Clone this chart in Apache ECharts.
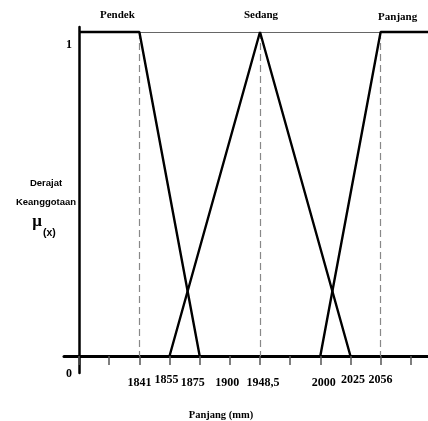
<!DOCTYPE html>
<html>
<head>
<meta charset="utf-8">
<script src="https://cdn.jsdelivr.net/npm/echarts@6/dist/echarts.min.js"></script>
<style>
  html, body { margin: 0; padding: 0; background: #fff; }
  #chart { width: 428px; height: 421px; }
</style>
</head>
<body>
<div id="chart"></div>
<script>
// Crisp length categories on the horizontal axis (blank entries are unlabelled ticks)
const categories = ['', '', '1841', '1855', '1875', '1900', '1948,5', '', '2000', '2025', '2056', '', ''];
const firstIndex = 0;
const lastIndex = categories.length - 1;

// Membership degree points for each fuzzy set
const pendek = [[firstIndex, 1], ['1841', 1], ['1875', 0]];
const sedang = [['1855', 0], ['1948,5', 1], ['2025', 0]];
const panjang = [['2000', 0], ['2056', 1], [lastIndex, 1]];

// Membership-value labels on the vertical axis
const yTicks = [0, 1];

const serif = 'Liberation Serif';
const dashStyle = { color: '#888', width: 1.2, type: [7, 4] };
const tickFont = { fontFamily: serif, fontWeight: 'bold', fontSize: 12, color: '#000' };

// Typesetting of individual tick labels: [top, right, bottom, left] padding
const labelPadding = {
  '1841': [3, 0, 0, 0],
  '1855': [0, 6, 0, 0],
  '1875': [3, 14, 0, 0],
  '1900': [3, 5, 0, 0],
  '1948,5': [3, 0, 0, 6],
  '2000': [3, 0, 0, 7],
  '2025': [0, 0, 0, 5],
  '2056': [0, 0, 0, 0]
};
const labelRich = {};
Object.keys(labelPadding).forEach(function (k, i) {
  labelRich['t' + i] = Object.assign({ padding: labelPadding[k] }, tickFont);
});

function guide(cat) {
  return [{ coord: [cat, 1] }, { coord: [cat, 0] }];
}

function setSeries(name, data, guideCat, labelOffset, extraLines) {
  return {
    name: name,
    type: 'line',
    data: data,
    symbol: 'none',
    lineStyle: { color: '#000', width: 2.4 },
    z: 5,
    markLine: {
      silent: true,
      symbol: ['none', 'none'],
      label: { show: false },
      lineStyle: dashStyle,
      data: [guide(guideCat)].concat(extraLines || [])
    },
    markPoint: {
      silent: true,
      symbol: 'circle',
      symbolSize: 0,
      data: [{ coord: [guideCat, 1] }],
      label: {
        show: true,
        position: 'inside',
        formatter: name,
        offset: labelOffset,
        fontFamily: serif,
        fontWeight: 'bold',
        fontSize: 11,
        color: '#000'
      }
    }
  };
}

const chart = echarts.init(document.getElementById('chart'), null, { renderer: 'canvas' });

chart.setOption({
  backgroundColor: '#fff',
  animation: false,
  grid: { left: 64, width: 392, top: 27, bottom: 48, containLabel: false, outerBoundsMode: 'none' },
  title: [
    {
      text: 'Panjang (mm)',
      left: 216, top: 405, textAlign: 'center',
      textStyle: { fontFamily: serif, fontWeight: 'bold', fontSize: 10.5, color: '#000' }
    },
    {
      text: 'Derajat\nKeanggotaan',
      left: 41, top: 169, textAlign: 'center',
      textStyle: { fontFamily: 'Liberation Sans', fontWeight: 'bold', fontSize: 9.5, lineHeight: 19, color: '#000' }
    },
    {
      text: '{mu|μ}{sub|(x)}',
      left: 39, top: 208, textAlign: 'center',
      textStyle: {
        rich: {
          mu: { fontFamily: serif, fontSize: 17, color: '#000', verticalAlign: 'top' },
          sub: { fontFamily: 'Liberation Sans', fontWeight: 'bold', fontSize: 10.5, color: '#000', padding: [15, 0, 0, 1] }
        }
      }
    }
  ],
  xAxis: {
    type: 'category',
    data: categories,
    boundaryGap: true,
    offset: -17,
    axisLine: { onZero: false, lineStyle: { color: '#000', width: 3 } },
    axisTick: { show: true, alignWithLabel: true, interval: 0, length: 9, lineStyle: { color: '#555', width: 1.5 } },
    axisLabel: {
      interval: 0, margin: 18, hideOverlap: false,
      formatter: function (v) {
        const i = Object.keys(labelPadding).indexOf(v);
        return i < 0 ? '' : '{t' + i + '|' + v + '}';
      },
      rich: labelRich
    },
    splitLine: { show: false }
  },
  yAxis: {
    type: 'value',
    min: -0.0525,
    max: 1.0154,
    offset: -15,
    axisLine: { show: true, onZero: false, lineStyle: { color: '#000', width: 2.5 } },
    axisTick: { show: false },
    splitLine: { show: false },
    axisLabel: {
      customValues: yTicks,
      margin: 7,
      formatter: function (v) { return v === 1 ? '{one|1}' : '{zero|0}'; },
      rich: {
        one: Object.assign({ padding: [26, 0, 0, 0] }, tickFont),
        zero: Object.assign({ padding: [36, 0, 0, 0] }, tickFont)
      }
    }
  },
  series: [
    setSeries('Pendek', pendek, '1841', [-22, -17], [
      [{ coord: [firstIndex, 1], lineStyle: { color: '#666', width: 1, type: 'solid' } },
       { coord: [lastIndex, 1], lineStyle: { color: '#666', width: 1, type: 'solid' } }]
    ]),
    setSeries('Sedang', sedang, '1948,5', [1, -17]),
    setSeries('Panjang', panjang, '2056', [17, -15])
  ]
});
</script>
</body>
</html>
